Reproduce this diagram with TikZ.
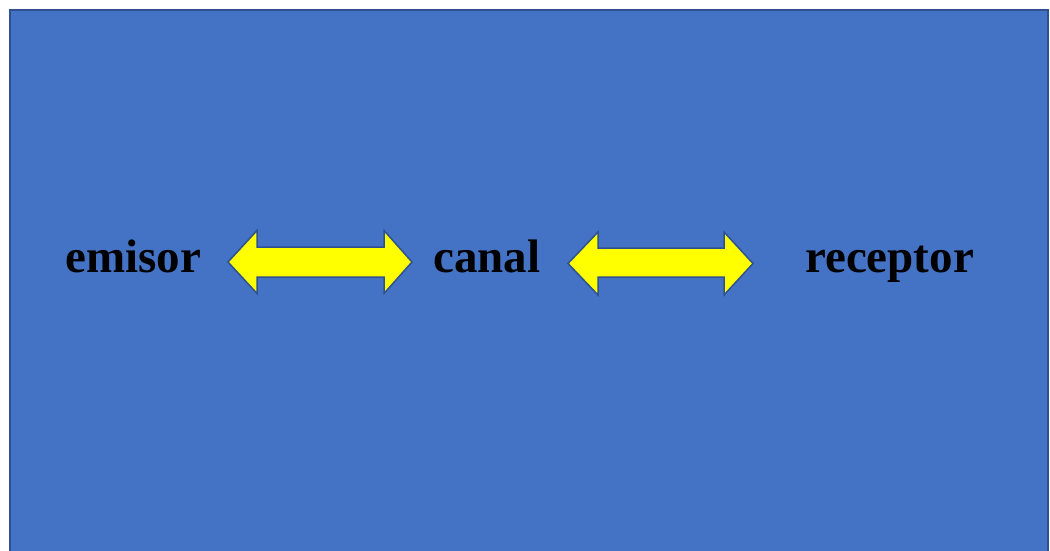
\documentclass[tikz,border=0pt]{standalone}
\usepackage{fontspec}
\setmainfont{Liberation Serif}
\definecolor{panelblue}{HTML}{4472C4}
\definecolor{edgeblue}{HTML}{2F528F}
\definecolor{arrowyellow}{HTML}{FFFF00}
\tikzset{
  label/.style={font=\fontsize{47}{52}\selectfont\bfseries, text=black, inner sep=0pt, anchor=base west},
  dblarrow/.style={fill=arrowyellow, draw=edgeblue, line width=1.5pt, line join=miter}
}
\begin{document}
\begin{tikzpicture}[x=1pt,y=1pt]
\useasboundingbox (0,0) rectangle (1050,550);
\clip (0,0) rectangle (1050,550);
\fill[white] (0,0) rectangle (1050,550);
\draw[fill=panelblue, draw=edgeblue, line width=1.5pt] (10,-5) rectangle (1048,540);
\node[label] (emisor) at (65,278) {emisor};
\node[label] (canal) at (433,278) {canal};
\node[label] (receptor) at (805,278) {receptor};
% arrow 1
\draw[dblarrow] (228,288) -- (257,319.5) -- (257,303) -- (384,303) -- (384,319.5) -- (412,288)
  -- (384,256.5) -- (384,273) -- (257,273) -- (257,256.5) -- cycle;
% arrow 2
\draw[dblarrow] (568,286.5) -- (598,318) -- (598,302) -- (724,302) -- (724,318) -- (753,286.5)
  -- (724,255) -- (724,273) -- (598,273) -- (598,255) -- cycle;
\end{tikzpicture}
\end{document}
